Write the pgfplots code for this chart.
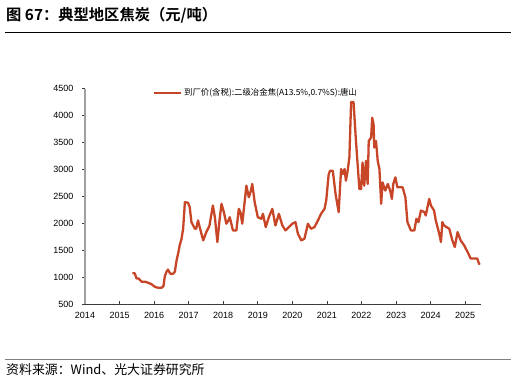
\documentclass[border=0pt]{standalone}
\usepackage{fontspec}
\setmainfont{Liberation Sans}
\newfontfamily\cjk{Noto Sans CJK SC}
\newfontfamily\cjkb{Noto Sans CJK SC Bold}
\usepackage{pgfplots}
\pgfplotsset{compat=1.18}
\definecolor{lineC}{RGB}{200,70,40}
\definecolor{axisG}{RGB}{160,160,160}
\definecolor{axisD}{RGB}{60,60,60}
\begin{document}
\begin{tikzpicture}[x=1pt,y=1pt]
\useasboundingbox (0,0) rectangle (516,-380);
\node[anchor=base west, inner sep=0pt] at (6,-20.5) {\cjkb\fontsize{15.3}{17}\selectfont 图 67：典型地区焦炭（元/吨）};
\draw[black, line width=0.8pt] (5,-32) -- (511,-32);
\draw[gray, line width=1.2pt] (5,-359.5) -- (511,-359.5);
\node[anchor=base west, inner sep=0pt] at (6,-374) {\cjk\fontsize{12.9}{14}\selectfont 资料来源：Wind、光大证券研究所};
\begin{axis}[
  at={(85pt,-304pt)}, anchor=south west,
  scale only axis, width=395.7pt, height=215.5pt,
  xmin=2014, xmax=2025.45, ymin=500, ymax=4500,
  xtick={2014,2015,...,2025}, ytick={500,1000,...,4500},
  axis x line*=bottom, axis y line*=left,
  x axis line style={-, color=axisD, line width=0.8pt},
  y axis line style={-, color=axisG, line width=1.2pt},
  xtick align=inside, ytick align=outside,
  major tick length=3pt,
  xtick style={color=axisD, line width=0.6pt},
  ytick style={color=axisD, line width=0.6pt},
  xticklabel style={yshift=-5pt},
  yticklabel style={xshift=-5pt},
  tick label style={font=\fontsize{9}{10}\selectfont, color=black},
  /pgf/number format/assume math mode=true,
  /pgf/number format/1000 sep={},
  scaled ticks=false,
  legend style={at={(0.171,0.9805)}, anchor=west, draw=none, fill=none, inner sep=0pt,
    font=\cjk\fontsize{8.4}{9}\selectfont},
  legend cell align=left,
  legend image code/.code={\draw[#1] (0pt,0pt) -- (27pt,0pt);},
]
\addplot[color=lineC, line width=2.3pt, line join=round] coordinates {
(2015.37,1070)(2015.44,1070)(2015.49,975)(2015.55,975)(2015.64,912)(2015.75,912)
(2015.83,893)(2015.92,870)(2016.02,819)(2016.12,800)(2016.21,800)(2016.27,830)
(2016.31,1017)(2016.36,1100)(2016.40,1140)(2016.46,1070)(2016.50,1054)(2016.56,1067)
(2016.60,1100)(2016.65,1312)(2016.70,1450)(2016.74,1589)(2016.79,1700)(2016.84,1897)
(2016.89,2388)(2016.98,2380)(2017.03,2300)(2017.08,2019)(2017.18,1897)(2017.22,1900)
(2017.27,2051)(2017.35,1850)(2017.42,1681)(2017.51,1835)(2017.60,1950)(2017.70,2328)
(2017.76,2100)(2017.83,1650)(2017.90,2100)(2017.95,2359)(2018.02,2200)(2018.09,1990)
(2018.15,2050)(2018.19,2112)(2018.28,1866)(2018.38,1866)(2018.45,2266)(2018.50,2200)
(2018.55,1990)(2018.62,2400)(2018.67,2697)(2018.74,2481)(2018.80,2600)(2018.84,2728)
(2018.91,2389)(2019.00,2112)(2019.10,2082)(2019.15,2174)(2019.23,1927)(2019.32,2112)
(2019.42,2266)(2019.51,1958)(2019.61,2174)(2019.71,1958)(2019.80,1866)(2019.90,1927)
(2020.00,1990)(2020.09,2020)(2020.16,1805)(2020.26,1681)(2020.35,1712)(2020.45,1990)
(2020.54,1897)(2020.64,1927)(2020.74,2051)(2020.83,2174)(2020.93,2266)(2020.98,2420)
(2021.02,2700)(2021.05,2900)(2021.09,2974)(2021.17,2974)(2021.25,2543)(2021.34,2205)
(2021.41,3005)(2021.46,2912)(2021.51,3005)(2021.55,2789)(2021.60,2974)(2021.65,3220)
(2021.70,4250)(2021.77,4250)(2021.84,3527)(2021.94,2635)(2021.99,2635)(2022.03,3127)
(2022.08,2697)(2022.13,3158)(2022.18,2728)(2022.21,3527)(2022.28,3589)(2022.31,3958)
(2022.35,3835)(2022.37,3404)(2022.42,3527)(2022.47,3158)(2022.52,3000)(2022.57,2359)
(2022.61,2758)(2022.69,2605)(2022.76,2728)(2022.83,2605)(2022.88,2451)(2022.92,2728)
(2022.98,2851)(2023.04,2666)(2023.19,2666)(2023.27,2481)(2023.33,2020)(2023.43,1866)
(2023.53,1866)(2023.59,2082)(2023.65,2020)(2023.72,2235)(2023.82,2205)(2023.86,2143)
(2023.91,2297)(2023.96,2451)(2024.01,2328)(2024.10,2235)(2024.15,2051)(2024.25,1805)
(2024.30,1650)(2024.34,2020)(2024.39,1958)(2024.46,1927)(2024.54,1897)(2024.63,1681)
(2024.70,1558)(2024.78,1835)(2024.87,1681)(2024.97,1589)(2025.07,1466)(2025.16,1343)
(2025.26,1343)(2025.35,1343)(2025.40,1251)(2025.42,1230)
};
\addlegendentry{到厂价(含税):二级冶金焦(A13.5\%,0.7\%S):唐山}
\end{axis}
\end{tikzpicture}
\end{document}
